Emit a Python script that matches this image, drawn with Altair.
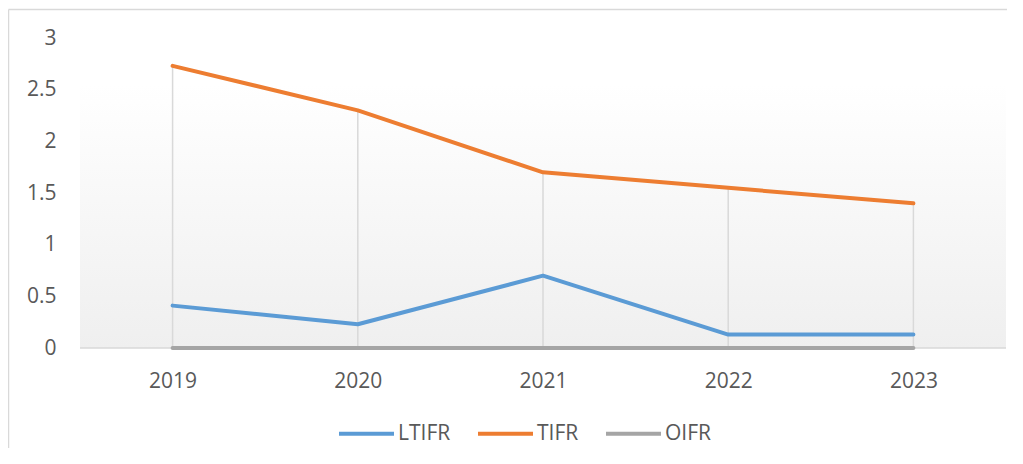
import altair as alt
import pandas as pd

years = ["2019", "2020", "2021", "2022", "2023"]
ltifr = [0.41, 0.23, 0.70, 0.13, 0.13]
tifr = [2.73, 2.30, 1.70, 1.55, 1.40]
oifr = [0, 0, 0, 0, 0]
series_names = ["LTIFR", "TIFR", "OIFR"]
series_colors = ["#5b9bd5", "#ed7d31", "#a5a5a5"]

rows = []
for name, vals in zip(series_names, [ltifr, tifr, oifr]):
    for y, v in zip(years, vals):
        rows.append({"Year": y, "Series": name, "Value": v})
df = pd.DataFrame(rows)
drop_df = pd.DataFrame({"Year": years,
                        "Top": [max(a, b, c) for a, b, c in zip(ltifr, tifr, oifr)]})

W, H = 926, 310
FONT = "Open Sans"
TXT = "#595959"
GRID = "#d9d9d9"

xscale = alt.Scale(type="point", domain=years, padding=0.5)
yscale = alt.Scale(domain=[0, 3])
one = pd.DataFrame({"a": [0]})

frame_top = alt.Chart(one).mark_rule(color=GRID, strokeWidth=1.5).encode(
    x=alt.value(-71.5), x2=alt.value(W + 40), y=alt.value(-28.5))
frame_left = alt.Chart(one).mark_rule(color=GRID, strokeWidth=1.5).encode(
    x=alt.value(-71.5), y=alt.value(-28.5), y2=alt.value(H + 200))

bg = alt.Chart(one).mark_rect(
    fill=alt.Gradient(gradient="linear", x1=0, y1=0, x2=0, y2=1,
                      stops=[alt.GradientStop(offset=0, color="#ffffff"),
                             alt.GradientStop(offset=0.15, color="#ffffff"),
                             alt.GradientStop(offset=1, color="#efefef")])
).encode(x=alt.value(0), x2=alt.value(W), y=alt.value(0), y2=alt.value(H))

baseline = alt.Chart(one).mark_rule(color=GRID, strokeWidth=1.5).encode(
    x=alt.value(0), x2=alt.value(W), y=alt.value(H))

drops = alt.Chart(drop_df).mark_rule(color=GRID, strokeWidth=1.5).encode(
    x=alt.X("Year:N", scale=xscale),
    y=alt.Y("Top:Q", scale=yscale),
    y2=alt.datum(0),
)

lines = alt.Chart(df).mark_line(strokeWidth=4, strokeCap="round", strokeJoin="round").encode(
    x=alt.X("Year:N", scale=xscale, title=None,
            axis=alt.Axis(labelAngle=0, labelAlign="center", labelBaseline="top",
                          labelFontSize=21, labelColor=TXT, labelFont=FONT,
                          ticks=False, domain=False, labelPadding=22, grid=False)),
    y=alt.Y("Value:Q", scale=yscale, title=None,
            axis=alt.Axis(values=[0, 0.5, 1, 1.5, 2, 2.5, 3], format="~g", labelFontSize=21,
                          labelColor=TXT, labelFont=FONT, ticks=False, domain=False, grid=False,
                          labelPadding=24)),
    color=alt.Color("Series:N", sort=series_names,
                    scale=alt.Scale(domain=series_names, range=series_colors),
                    legend=alt.Legend(orient="none", legendX=257, legendY=366, direction="horizontal",
                                      title=None, symbolType="stroke", symbolSize=3025,
                                      symbolStrokeWidth=4, labelFontSize=21, labelColor=TXT,
                                      labelFont=FONT, columnPadding=19, labelOffset=2)),
    order=alt.Order("Series:N"),
)

chart = alt.layer(frame_top, frame_left, bg, baseline, drops, lines).properties(
    width=W, height=H,
    autosize=alt.AutoSizeParams(type="none"),
    padding={"left": 72, "top": 30, "right": 1, "bottom": 100},
).configure_view(stroke=None)

chart.save("out.html", embed_options={"renderer": "svg", "actions": False})
